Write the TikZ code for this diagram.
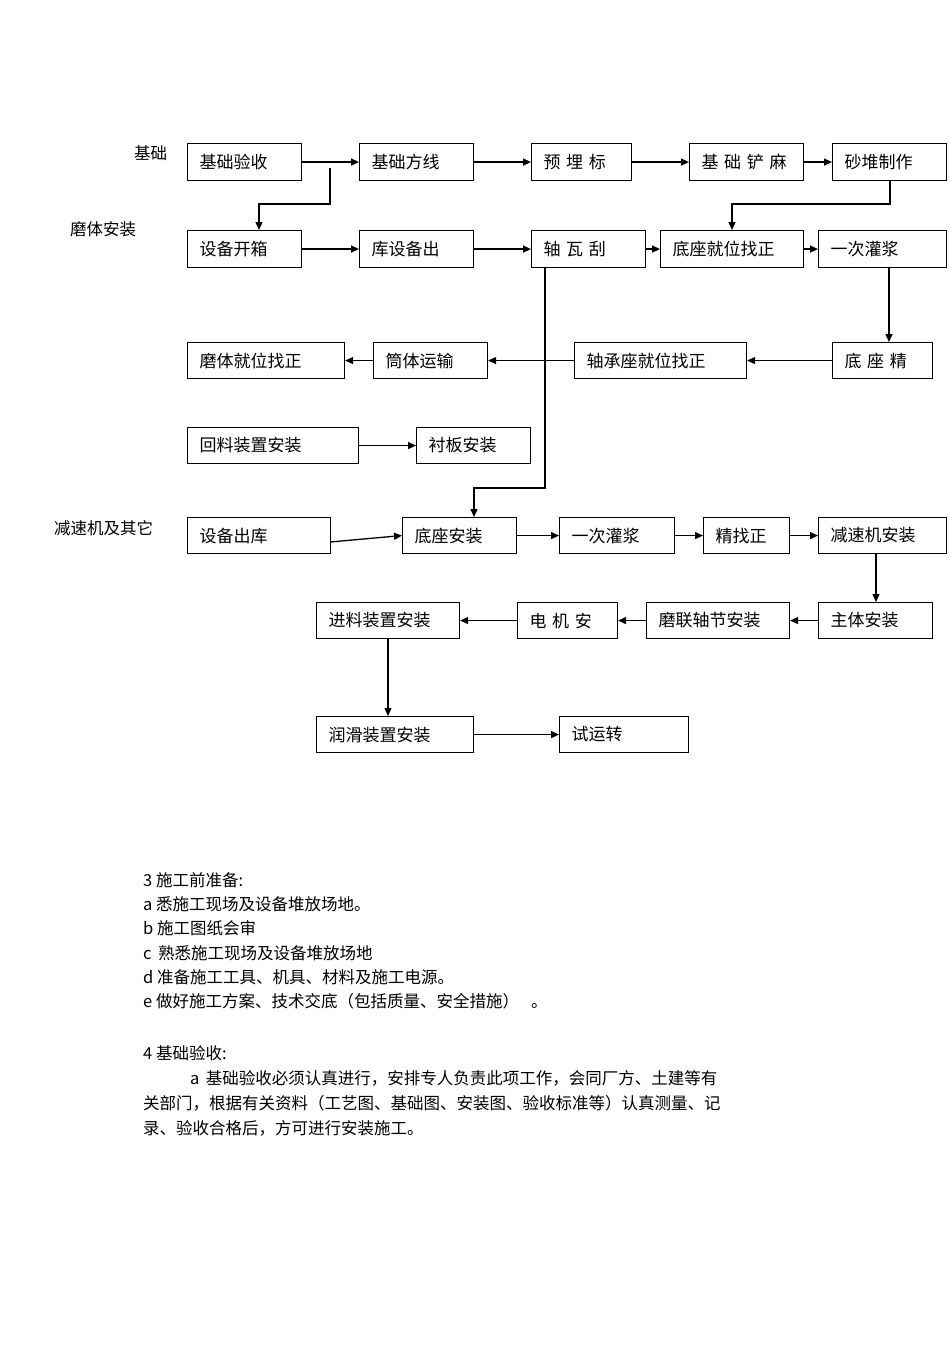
\documentclass[tikz,border=0pt]{standalone}
\usepackage{fontspec}
\setmainfont{Liberation Sans}
\newfontfamily\cjk{Noto Sans CJK SC}
\usetikzlibrary{arrows.meta}
\begin{document}
\begin{tikzpicture}[x=1pt,y=-1pt,
  bx/.style={draw,line width=1.1pt,inner sep=0pt,anchor=north west,font=\cjk\fontsize{17}{20}\selectfont,align=left},
  ar/.style={line width=1.3pt,-{Triangle[length=8pt,width=7pt]}},
  ln/.style={line width=1.3pt},
  tx/.style={anchor=west,inner sep=0pt,font=\cjk\fontsize{16.5}{20}\selectfont}]
\useasboundingbox (0,0) rectangle (950,1345);
\newcommand{\bxx}[6]{\node[bx,minimum width=#4-#2,minimum height=#5-#3,text width=#4-#2-24pt] (#1) at (#2,#3) {\hspace*{0pt}#6};}
% row1
\bxx{a1}{187}{143}{301}{180}{基础验收}
\bxx{a2}{359}{143}{473}{180}{基础方线}
\bxx{a3}{531}{143}{631}{180}{预\ 埋\ 标}
\bxx{a4}{689}{143}{803}{180}{基 础 铲 麻}
\bxx{a5}{832}{143}{946}{180}{砂堆制作}
% row2
\bxx{b1}{187}{230}{301}{267}{设备开箱}
\bxx{b2}{359}{230}{473}{267}{库设备出}
\bxx{b3}{531}{230}{645}{267}{轴\ 瓦\ 刮}
\bxx{b4}{660}{230}{803}{267}{底座就位找正}
\bxx{b5}{818}{230}{946}{267}{一次灌浆}
% row3
\bxx{c1}{187}{342}{344}{378}{磨体就位找正}
\bxx{c2}{373}{342}{487}{378}{筒体运输}
\bxx{c3}{574}{342}{746}{378}{轴承座就位找正}
\bxx{c4}{832}{342}{932}{378}{底\ 座\ 精}
% row4
\bxx{d1}{187}{427}{358}{463}{回料装置安装}
\bxx{d2}{416}{427}{530}{463}{衬板安装}
% row5
\bxx{e1}{187}{517}{330}{553}{设备出库}
\bxx{e2}{402}{517}{516}{553}{底座安装}
\bxx{e3}{559}{517}{674}{553}{一次灌浆}
\bxx{e4}{703}{517}{789}{553}{精找正}
\bxx{e5}{818}{517}{946}{553}{减速机安装}
% row6
\bxx{f1}{316}{602}{459}{638}{进料装置安装}
\bxx{f2}{517}{602}{617}{638}{电\ 机\ 安}
\bxx{f3}{646}{602}{789}{638}{磨联轴节安装}
\bxx{f4}{818}{602}{932}{638}{主体安装}
% row7
\bxx{g1}{316}{716}{473}{752}{润滑装置安装}
\bxx{g2}{559}{716}{688}{752}{试运转}
% side labels
\node[tx] (l1) at (134,153) {基础};
\node[tx] (l2) at (70,229) {磨体安装};
\node[tx] (l3) at (54,528) {减速机及其它};
% connectors
\draw[ar] (a1.east) -- (a2.west);
\draw[ar] (a2.east) -- (a3.west);
\draw[ar] (a3.east) -- (a4.west);
\draw[ar] (a4.east) -- (a5.west);
\coordinate (j1) at (330,168);
\draw[ar] (j1) -- (330,204) -- (259,204) -- (259,230);
\draw[ar] (890,180) -- (890,204) -- (732,204) -- (732,230);
\draw[ar] (b1.east) -- (b2.west);
\draw[ar] (b2.east) -- (b3.west);
\draw[ar] (b3.east) -- (b4.west);
\draw[ar] (b4.east) -- (b5.west);
\draw[ar] (889,267) -- (889,342);
\draw[ar] (c4.west) -- (c3.east);
\draw[ar] (c3.west) -- (c2.east);
\draw[ar] (c2.west) -- (c1.east);
\draw[ar] (545,267) -- (545,488) -- (474,488) -- (474,517);
\draw[ar] (d1.east) -- (d2.west);
\draw[ar] (330,542) -- (e2.west);
\draw[ar] (e2.east) -- (e3.west);
\draw[ar] (e3.east) -- (e4.west);
\draw[ar] (e4.east) -- (e5.west);
\draw[ar] (876,553) -- (876,602);
\draw[ar] (f4.west) -- (f3.east);
\draw[ar] (f3.west) -- (f2.east);
\draw[ar] (f2.west) -- (f1.east);
\draw[ar] (388,638) -- (388,716);
\draw[ar] (g1.east) -- (g2.west);
% text
\node[tx] (t1) at (143,880) {3 施工前准备:};
\node[tx] (t2) at (143,904) {a 悉施工现场及设备堆放场地。};
\node[tx] (t3) at (143,928) {b 施工图纸会审};
\node[tx] (t4) at (143,953) {c\, 熟悉施工现场及设备堆放场地};
\node[tx] (t5) at (143,977) {d 准备施工工具、机具、材料及施工电源。};
\node[tx] (t6) at (143,1001) {e 做好施工方案、技术交底（包括质量、安全措施）\hspace{12pt}。};
\node[tx] (t7) at (143,1053) {4 基础验收:};
\node[tx] (t8) at (190,1078) {a\, 基础验收必须认真进行，安排专人负责此项工作，会同厂方、土建等有};
\node[tx] (t9) at (143,1103) {关部门，根据有关资料（工艺图、基础图、安装图、验收标准等）认真测量、记};
\node[tx] (t10) at (143,1128) {录、验收合格后，方可进行安装施工。};
\end{tikzpicture}
\end{document}
